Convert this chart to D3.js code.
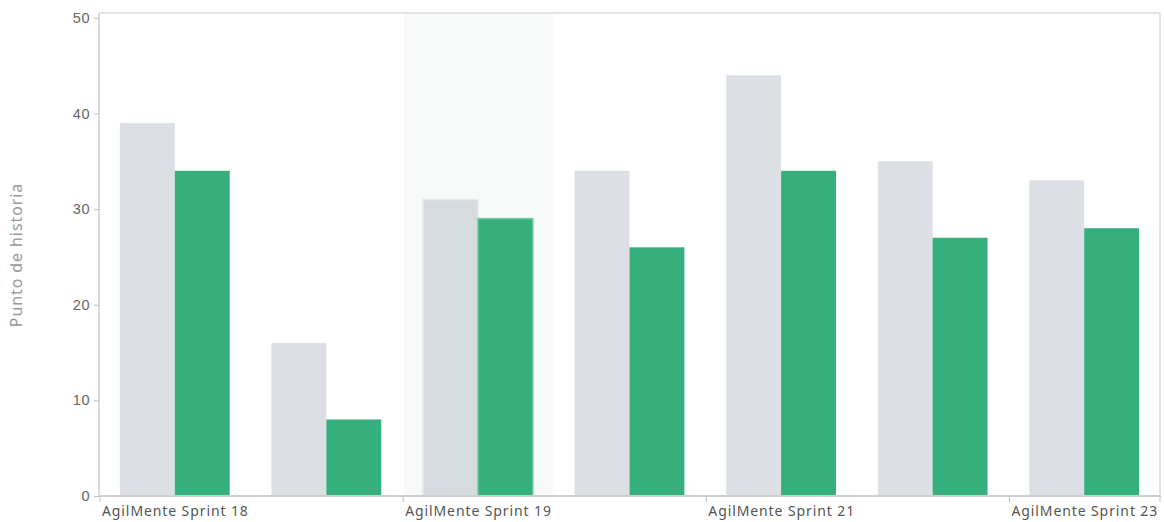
<!DOCTYPE html>
<html><head><meta charset="utf-8">
<script src="https://cdn.jsdelivr.net/npm/d3@7"></script>
<style>body{margin:0;background:#fff;}svg{display:block;font-family:"Noto Sans","Open Sans",sans-serif;}</style>
</head><body><svg id="c" width="1164" height="522"></svg>
<script>
const categories = ["AgilMente Sprint 18","AgilMente Sprint 18B","AgilMente Sprint 19","AgilMente Sprint 20","AgilMente Sprint 21","AgilMente Sprint 22","AgilMente Sprint 23"];
const committed = [39,16,31,34,44,35,33];
const completed = [34,8,29,26,34,27,28];
const yTicks = [0,10,20,30,40,50];
const highlighted = 2;

const svg = d3.select("#c");
const m = {l:99, r:1160, t:13, b:496};
const x = d3.scaleBand().domain(categories).range([m.l, m.r]).paddingInner(0).paddingOuter(0);
const y = d3.scaleLinear().domain([0, 50.5]).range([m.b, m.t]);
const inner = d3.scaleBand().domain([0,1]).range([0, x.bandwidth()]).paddingOuter(0.38).paddingInner(0);

// hover band
svg.append("rect").attr("x", x(categories[highlighted])+2).attr("y", m.t+1)
  .attr("width", x.bandwidth()-2).attr("height", m.b-m.t-1).attr("fill","#f8f9f9");

// frame
svg.append("line").attr("x1",m.l).attr("x2",m.r).attr("y1",m.t).attr("y2",m.t).attr("stroke","#e3e3e3").attr("stroke-width",2);
svg.append("line").attr("x1",m.r).attr("x2",m.r).attr("y1",m.t).attr("y2",m.b).attr("stroke","#e3e3e3").attr("stroke-width",2);

const series = [{vals:committed, fill:"#dce0e4", hfill:"#d6dbdf", hstroke:"#e6e9ec"},{vals:completed, fill:"#35b07d", hfill:"#35b07d", hstroke:"#6ccba3"}];
series.forEach((s,si)=>{
  svg.append("g").selectAll("rect").data(categories).join("rect")
    .attr("x", c=>x(c)+inner(si))
    .attr("y", (c,i)=>y(s.vals[i]))
    .attr("width", inner.bandwidth())
    .attr("height", (c,i)=>y(0)-y(s.vals[i]))
    .attr("fill", (c,i)=> i===highlighted ? s.hfill : s.fill)
    .attr("stroke", (c,i)=> i===highlighted ? s.hstroke : "none")
    .attr("stroke-width", 1.5);
});

// y axis
const yAxis = d3.axisLeft(y).tickValues(yTicks).tickSize(5).tickPadding(4);
const gy = svg.append("g").attr("transform",`translate(${m.l},0)`).call(yAxis);
gy.select(".domain").attr("stroke","#dadada").attr("stroke-width",2).attr("d",`M0,${m.t}V${m.b}`);
gy.selectAll(".tick line").attr("stroke","#bdbdbd");
gy.selectAll(".tick text").attr("fill","#666").style("font-size","14.5px").style("letter-spacing","0.5px");

// x axis
const shown = categories.filter((c,i)=>i%2===0);
const gx = svg.append("g").attr("transform",`translate(0,${m.b})`);
gx.append("line").attr("x1",m.l).attr("x2",m.r+1).attr("stroke","#cfcfcf").attr("stroke-width",2);
gx.selectAll("line.t").data(shown.concat([null])).join("line").attr("class","t")
  .attr("x1", c=> c===null ? m.r : x(c)+1).attr("x2", c=> c===null ? m.r : x(c)+1)
  .attr("y1",0).attr("y2",6).attr("stroke","#bdbdbd");
gx.selectAll("text").data(shown).join("text")
  .attr("x", c=>x(c)+3).attr("y",20).attr("fill","#555").style("font-size","14px").style("letter-spacing","0.9px")
  .text(c=>c);

// y label
svg.append("text").attr("transform","translate(22,255) rotate(-90)").attr("text-anchor","middle")
  .attr("fill","#999").style("font-size","16px").style("letter-spacing","0.9px").text("Punto de historia");
</script></body></html>
